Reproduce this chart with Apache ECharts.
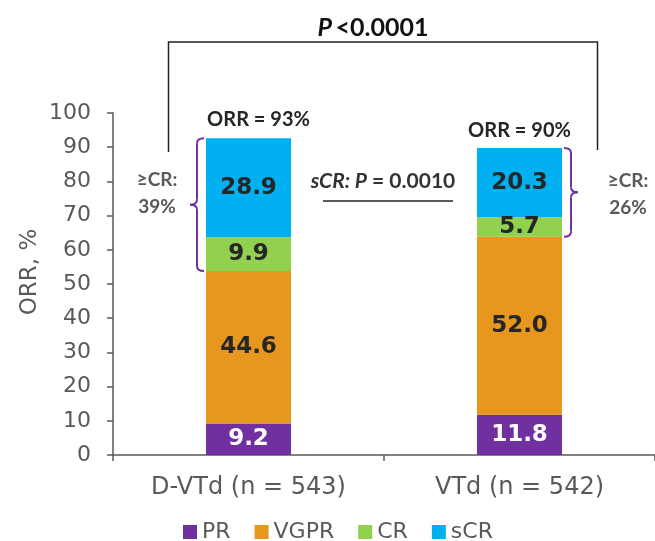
<!DOCTYPE html>
<html><head><meta charset="utf-8">
<script src="https://cdn.jsdelivr.net/npm/echarts@6/dist/echarts.min.js"></script>
<style>html,body{margin:0;padding:0;background:#fff}#c{width:655px;height:541px}</style>
</head><body><div id="c"></div>
<script>
const categories = ['D-VTd (n = 543)', 'VTd (n = 542)'];
const seriesNames = ['PR', 'VGPR', 'CR', 'sCR'];
const prValues = [9.2, 11.8];
const vgprValues = [44.6, 52.0];
const crValues = [9.9, 5.7];
const scrValues = [28.9, 20.3];
const orrLabels = ['ORR = 93%', 'ORR = 90%'];
const geCrLabels = [['≥CR:', '39%'], ['≥CR:', '26%']];
const yAxisTitle = 'ORR, %';
const scrP = ['sCR: P', ' = 0.0010'];

const colors = {PR:'#7030A0', VGPR:'#E7961E', CR:'#92D050', sCR:'#00B0F0'};
const gray = '#595959';
const chart = echarts.init(document.getElementById('c'), null, {renderer:'canvas'});

function mk(name, data, labelColor){
  return {
    name, type:'bar', stack:'total', data, barWidth:85,
    itemStyle:{color:colors[name]},
    label:{show:true, position:'inside', formatter:p=>p.value.toFixed(1),
      fontFamily:'DejaVu Sans', fontWeight:'bold', fontSize:23, color:labelColor},
    emphasis:{disabled:true}
  };
}

const option = {
  animation:false,
  grid:{left:113, top:113, width:546, bottom:86, containLabel:false},
  legend:{data:seriesNames, top:516, left:178, icon:'rect', itemWidth:14, itemHeight:14, itemGap:24,
    textStyle:{fontFamily:'DejaVu Sans', fontSize:22, color:gray}},
  xAxis:{type:'category', data:categories,
    axisLine:{lineStyle:{color:gray, width:1.5}},
    axisTick:{show:true, length:6, lineStyle:{color:gray, width:1.5}},
    axisLabel:{fontFamily:'DejaVu Sans', fontSize:24, color:gray, margin:21}},
  yAxis:{type:'value', min:0, max:100, interval:10,
    axisLine:{show:true, lineStyle:{color:gray, width:1.5}},
    axisTick:{show:true, length:6, lineStyle:{color:gray, width:1.5}},
    splitLine:{show:false},
    axisLabel:{fontFamily:'DejaVu Sans', fontSize:22, color:gray, margin:22}},
  series:[mk('PR', prValues, '#ffffff'), mk('VGPR', vgprValues, '#262626'), mk('CR', crValues, '#262626'), mk('sCR', scrValues, '#262626')]
};
chart.setOption(option);

const px = (c, v) => chart.convertToPixel({gridIndex:0}, [c, v]);
const totals = categories.map((_, i) => prValues[i] + vgprValues[i] + crValues[i] + scrValues[i]);
const crBase = categories.map((_, i) => prValues[i] + vgprValues[i]);
const half = 42.5;
const g = [];
const txtFont = 'Lato';

// y axis title
g.push({type:'text', x:30, y:272, rotation:Math.PI/2, style:{text:yAxisTitle, align:'center', verticalAlign:'middle',
  fontFamily:'DejaVu Sans', fontSize:23, fill:gray}});

// overall bracket
const p0top = px(0, totals[0]), p1top = px(1, totals[1]);
const bx0 = p0top[0] - 80, bx1 = p1top[0] + 78, by = 42;
g.push({type:'polyline', shape:{points:[[bx0, 152],[bx0, by],[bx1, by],[bx1, 150]]}, style:{stroke:'#222', lineWidth:1.5, fill:null}});
g.push({type:'text', x:(bx0+bx1)/2 - 10, y:28, style:{text:'{i|P} {b|<0.0001}', align:'center', verticalAlign:'middle',
  rich:{i:{fontFamily:txtFont, fontWeight:'bold', fontStyle:'italic', fontSize:25, fill:'#111'}, b:{fontFamily:txtFont, fontWeight:'bold', fontSize:25, fill:'#111'}}}});

// ORR labels
[[10, -19], [0, -17]].forEach((o, i) => {
  const p = px(i, totals[i]);
  g.push({type:'text', x:p[0] + o[0], y:p[1] + o[1], style:{text:orrLabels[i], align:'center', verticalAlign:'middle',
    fontFamily:txtFont, fontWeight:'bold', fontSize:20, fill:'#262626'}});
});

// braces built from lines and quadratic curves
function brace(x, yTop, yBot, dir){ // dir=-1 tip points left
  const yMid = (yTop + yBot) / 2, e = 7 * -dir, t = 7 * dir, r = 5;
  const st = {stroke:'#7030A0', lineWidth:2, fill:null};
  return [
    {type:'bezierCurve', shape:{x1:x+e, y1:yTop, cpx1:x, cpy1:yTop, x2:x, y2:yTop+r}, style:st},
    {type:'line', shape:{x1:x, y1:yTop+r, x2:x, y2:yMid-r}, style:st},
    {type:'bezierCurve', shape:{x1:x, y1:yMid-r, cpx1:x, cpy1:yMid, x2:x+t, y2:yMid}, style:st},
    {type:'bezierCurve', shape:{x1:x+t, y1:yMid, cpx1:x, cpy1:yMid, x2:x, y2:yMid+r}, style:st},
    {type:'line', shape:{x1:x, y1:yMid+r, x2:x, y2:yBot-r}, style:st},
    {type:'bezierCurve', shape:{x1:x, y1:yBot-r, cpx1:x, cpy1:yBot, x2:x+e, y2:yBot}, style:st}
  ];
}
const a0 = px(0, totals[0]), b0 = px(0, crBase[0]);
const a1 = px(1, totals[1]), b1 = px(1, crBase[1]);
g.push(...brace(a0[0] - half - 9, a0[1], b0[1], -1));
g.push(...brace(a1[0] + half + 9, a1[1], b1[1], 1));

// >=CR labels
[[157, 180], [628, 181]].forEach((pos, i) => {
  g.push({type:'text', x:pos[0], y:pos[1], style:{text:geCrLabels[i][0], align:'center', verticalAlign:'middle', fontFamily:txtFont, fontWeight:'bold', fontSize:19, fill:gray}});
  g.push({type:'text', x:pos[0], y:pos[1] + 27, style:{text:geCrLabels[i][1], align:'center', verticalAlign:'middle', fontFamily:txtFont, fontWeight:'bold', fontSize:19, fill:gray}});
});

// sCR p-value
g.push({type:'text', x:383, y:181, style:{text:'{i|' + scrP[0] + '}{b|' + scrP[1] + '}', align:'center', verticalAlign:'middle',
  rich:{i:{fontFamily:txtFont, fontWeight:'bold', fontStyle:'italic', fontSize:21, fill:'#333'}, b:{fontFamily:txtFont, fontWeight:'bold', fontSize:21, fill:'#333'}}}});
g.push({type:'line', shape:{x1:323, y1:201, x2:453, y2:201}, style:{stroke:'#222', lineWidth:1.5}});

chart.setOption({graphic:g});
</script></body></html>
